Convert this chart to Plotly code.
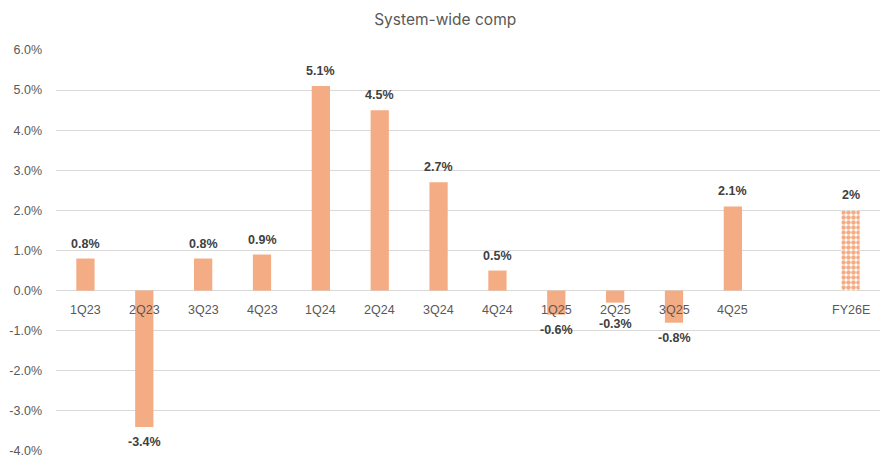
import plotly.graph_objects as go

categories = ["1Q23", "2Q23", "3Q23", "4Q23", "1Q24", "2Q24", "3Q24", "4Q24",
              "1Q25", "2Q25", "3Q25", "4Q25", " ", "FY26E"]
values = [0.8, -3.4, 0.8, 0.9, 5.1, 4.5, 2.7, 0.5, -0.6, -0.3, -0.8, 2.1, None, 2.0]
value_labels = ["0.8%", "-3.4%", "0.8%", "0.9%", "5.1%", "4.5%", "2.7%", "0.5%",
                "-0.6%", "-0.3%", "-0.8%", "2.1%", "", "2%"]
tick_vals = [6, 5, 4, 3, 2, 1, 0, -1, -2, -3, -4]
tick_text = ["6.0%", "5.0%", "4.0%", "3.0%", "2.0%", "1.0%", "0.0%",
             "-1.0%", "-2.0%", "-3.0%", "-4.0%"]

bar_color = "#F4AC84"
n_actual = 12
label_font = dict(family="Liberation Sans", size=12.5, color="#404040", weight="bold")
axis_font = dict(family="Liberation Sans", size=12.5, color="#595959")

fig = go.Figure()
fig.add_trace(go.Bar(
    x=categories[:n_actual], y=values[:n_actual],
    marker=dict(color=bar_color, line=dict(width=0)),
    width=0.31,
))
fig.add_trace(go.Bar(
    x=categories[n_actual + 1:], y=values[n_actual + 1:],
    marker=dict(color="white", line=dict(width=0),
                pattern=dict(shape=".", fgcolor=bar_color, bgcolor="white",
                             size=5, solidity=0.65, fillmode="replace")),
    width=0.31,
))

# value labels
for c, v, t in zip(categories, values, value_labels):
    if v is None:
        continue
    if v >= 0:
        fig.add_annotation(x=c, y=v, text=t, showarrow=False, yanchor="middle",
                           yshift=15, font=label_font)
    else:
        fig.add_annotation(x=c, y=min(v, -0.45), text=t, showarrow=False, yanchor="middle",
                           yshift=-15, font=label_font)

# category labels just below the zero line
for c in categories:
    if c.strip():
        fig.add_annotation(x=c, y=0, text=c, showarrow=False, yanchor="middle",
                           yshift=-19, font=axis_font)

fig.update_layout(
    width=885, height=459,
    margin=dict(l=48, r=13, t=42, b=16),
    paper_bgcolor="white", plot_bgcolor="white",
    showlegend=False, barmode="overlay",
    title=dict(text="System-wide comp", x=0.494, xanchor="center", xref="container",
               y=1 - 12 / 459, yref="container", yanchor="middle",
               font=dict(family="Inter", size=15.5, color="#595959")),
)
fig.update_xaxes(type="category", categoryorder="array", categoryarray=categories,
                 range=[-0.5, len(categories) - 0.5], showticklabels=False,
                 showgrid=False, zeroline=False, showline=False, automargin=False)
fig.update_yaxes(range=[-4, 6], tickvals=tick_vals, ticktext=tick_text,
                 showgrid=True, gridcolor="#D9D9D9", gridwidth=1,
                 zeroline=True, zerolinecolor="#D9D9D9", zerolinewidth=1,
                 tickfont=axis_font, ticklabelstandoff=13, automargin=False,
                 ticks="", ticklen=0, showline=False)

fig.write_html("out.html")
